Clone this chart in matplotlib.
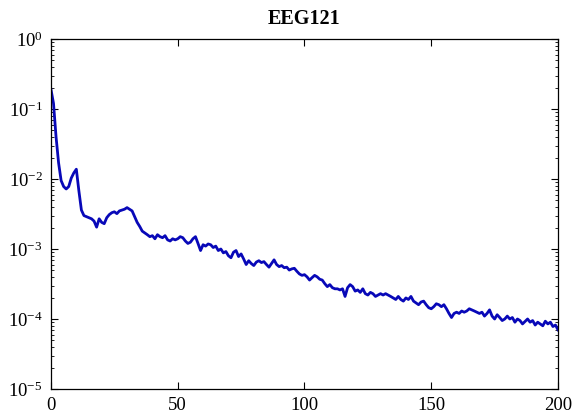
import matplotlib
matplotlib.use('Agg')
import matplotlib.pyplot as plt
from matplotlib.ticker import LogLocator, NullFormatter

# power spectrum of channel EEG121, one value per Hz
freq = list(range(0, 201))
power = [
    1.9e-1, 1.2e-1, 4.0e-2, 1.7e-2, 9.5e-3, 7.8e-3, 7.2e-3, 7.8e-3, 1.03e-2, 1.22e-2,
    1.38e-2, 6.8e-3, 3.6e-3, 3.0e-3, 2.9e-3, 2.8e-3, 2.7e-3, 2.5e-3, 2.05e-3, 2.7e-3,
    2.4e-3, 2.3e-3, 2.8e-3, 3.1e-3, 3.3e-3, 3.4e-3, 3.2e-3, 3.5e-3, 3.6e-3, 3.7e-3,
    3.9e-3, 3.7e-3, 3.5e-3, 2.9e-3, 2.4e-3, 2.1e-3, 1.8e-3, 1.7e-3, 1.6e-3, 1.5e-3,
    1.55e-3, 1.4e-3, 1.6e-3, 1.5e-3, 1.45e-3, 1.55e-3, 1.35e-3, 1.3e-3, 1.4e-3, 1.35e-3,
    1.4e-3, 1.5e-3, 1.45e-3, 1.3e-3, 1.2e-3, 1.25e-3, 1.4e-3, 1.5e-3, 1.2e-3, 9.5e-4,
    1.15e-3, 1.1e-3, 1.18e-3, 1.15e-3, 1.05e-3, 1.1e-3, 9.5e-4, 1.0e-3, 8.8e-4, 9.2e-4,
    8.0e-4, 7.5e-4, 9.0e-4, 9.5e-4, 7.8e-4, 8.5e-4, 7.2e-4, 6.0e-4, 6.8e-4, 6.2e-4,
    5.8e-4, 6.5e-4, 6.8e-4, 6.4e-4, 6.6e-4, 6.0e-4, 5.5e-4, 6.2e-4, 7.0e-4, 6.0e-4,
    5.6e-4, 5.8e-4, 5.4e-4, 5.5e-4, 5.0e-4, 5.2e-4, 5.3e-4, 4.8e-4, 4.4e-4, 4.2e-4,
    4.3e-4, 4.0e-4, 3.6e-4, 3.9e-4, 4.2e-4, 4.0e-4, 3.7e-4, 3.6e-4, 3.2e-4, 2.9e-4,
    3.1e-4, 2.8e-4, 2.7e-4, 2.7e-4, 2.6e-4, 2.7e-4, 2.1e-4, 2.8e-4, 3.1e-4, 2.9e-4,
    2.5e-4, 2.6e-4, 2.4e-4, 2.7e-4, 2.3e-4, 2.2e-4, 2.4e-4, 2.3e-4, 2.1e-4, 2.2e-4,
    2.3e-4, 2.2e-4, 2.3e-4, 2.2e-4, 2.1e-4, 2.0e-4, 1.9e-4, 2.1e-4, 1.9e-4, 1.8e-4,
    2.0e-4, 1.9e-4, 2.1e-4, 1.8e-4, 1.7e-4, 1.6e-4, 1.75e-4, 1.8e-4, 1.6e-4, 1.45e-4,
    1.4e-4, 1.5e-4, 1.65e-4, 1.6e-4, 1.5e-4, 1.6e-4, 1.4e-4, 1.2e-4, 1.05e-4, 1.2e-4,
    1.25e-4, 1.2e-4, 1.3e-4, 1.25e-4, 1.3e-4, 1.4e-4, 1.35e-4, 1.3e-4, 1.25e-4, 1.2e-4,
    1.25e-4, 1.1e-4, 1.2e-4, 1.35e-4, 1.1e-4, 1.0e-4, 1.15e-4, 1.05e-4, 9.5e-5, 1.0e-4,
    1.1e-4, 1.0e-4, 1.05e-4, 9.0e-5, 1.0e-4, 9.5e-5, 8.5e-5, 9.2e-5, 1.0e-4, 9.0e-5,
    9.5e-5, 8.2e-5, 9.0e-5, 8.5e-5, 8.0e-5, 9.3e-5, 8.5e-5, 9.0e-5, 7.8e-5, 8.2e-5,
    7.0e-5,
]

plt.rcParams['font.family'] = 'Liberation Serif'
plt.rcParams['mathtext.fontset'] = 'custom'
plt.rcParams['mathtext.rm'] = 'Liberation Serif'

fig = plt.figure(figsize=(5.78, 4.18), dpi=100)
ax = fig.add_axes([0.0882, 0.0694, 0.8772, 0.8373])

ax.semilogy(freq, power, color='#0808b8', linewidth=2.0)

ax.set_xlim(0, 200)
ax.set_ylim(1e-5, 1e0)
ax.set_xticks([0, 50, 100, 150, 200])
ax.yaxis.set_major_locator(LogLocator(base=10, numticks=10))
ax.yaxis.set_minor_locator(LogLocator(base=10, subs=range(2, 10), numticks=10))
ax.yaxis.set_minor_formatter(NullFormatter())

ax.tick_params(which='both', direction='in', top=True, right=True, labelsize=13.5)
ax.tick_params(which='major', length=5, width=0.8, pad=6)
ax.tick_params(which='minor', length=2.5, width=0.6)
for s in ax.spines.values():
    s.set_linewidth(0.9)

ax.set_title('EEG121', fontsize=14.5, fontweight='bold', pad=11)

fig.savefig('out.png', dpi=100)
